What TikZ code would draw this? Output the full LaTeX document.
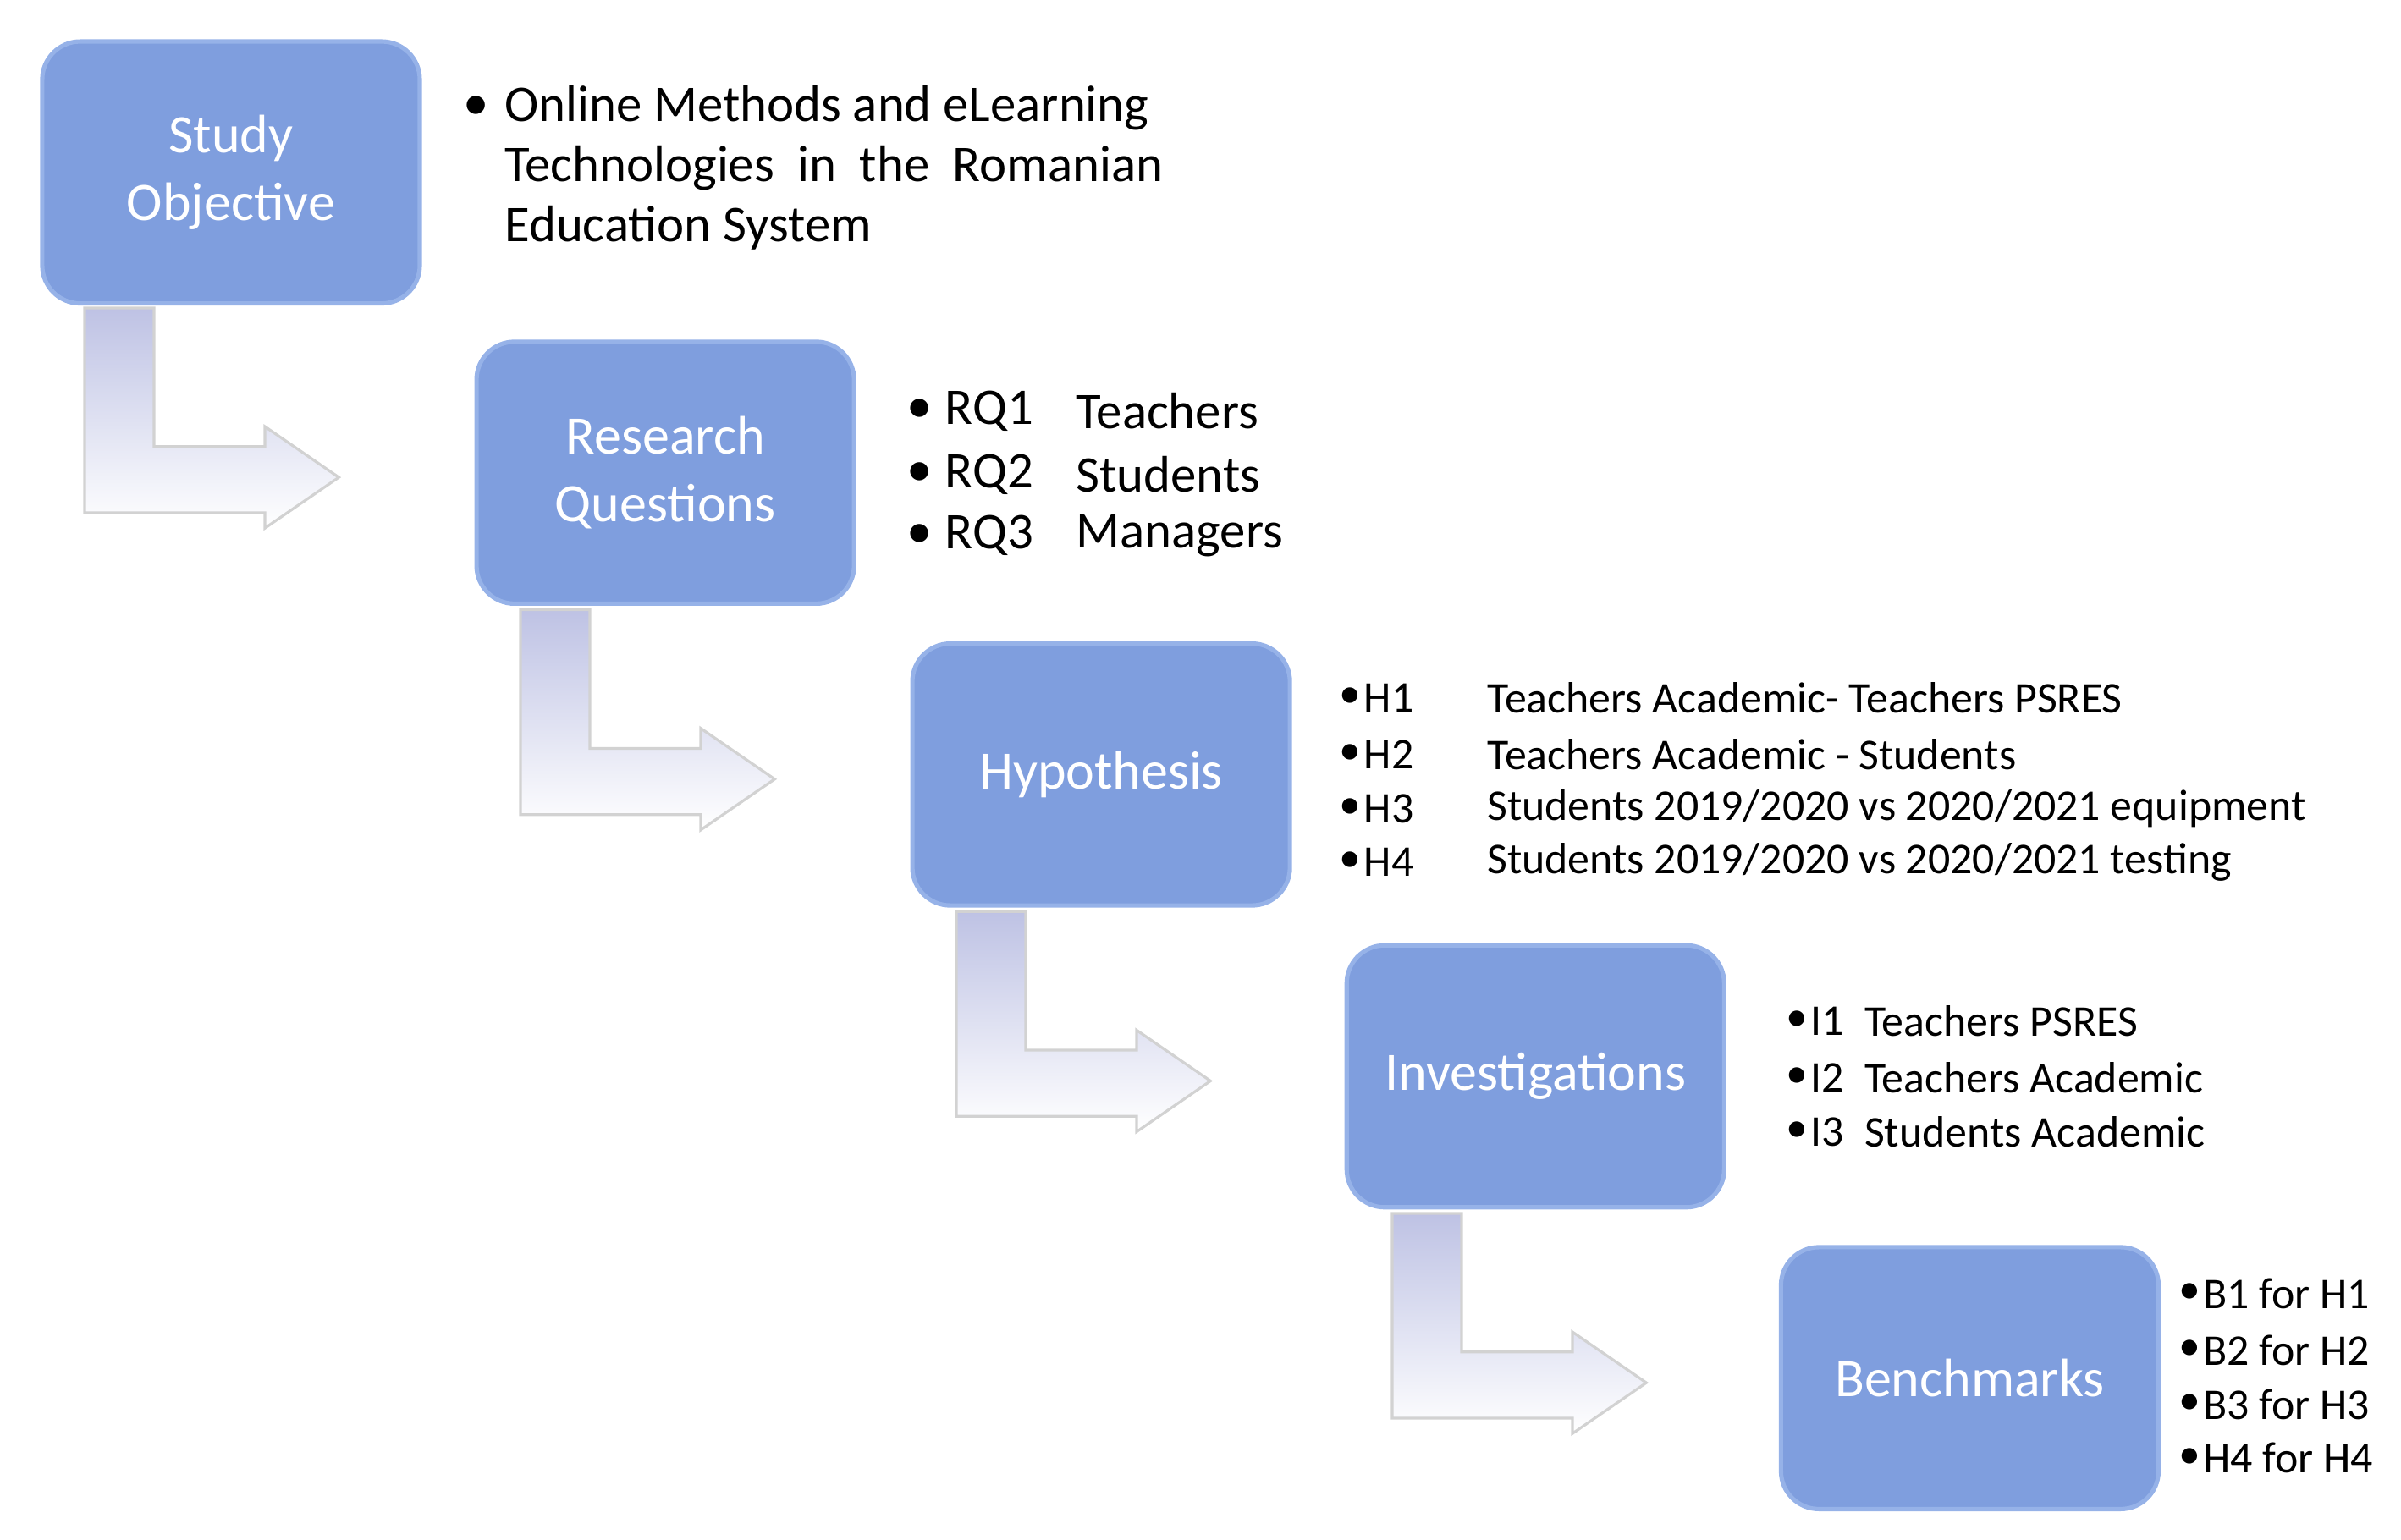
\documentclass[tikz,border=0pt]{standalone}
\usepackage{fontspec}
\setmainfont{Carlito}
\usetikzlibrary{shadows}
\definecolor{boxblue}{RGB}{127,158,222}
\definecolor{boxedge}{RGB}{150,178,232}
\definecolor{arrL}{RGB}{190,194,228}
\begin{document}
\begin{tikzpicture}[x=0.01cm,y=-0.01cm,
  box/.style={draw=boxedge,line width=0.8pt,fill=boxblue,rounded corners=7pt,
    minimum width=2.45cm,minimum height=1.7cm,text=white,align=center,
    font=\fontsize{10}{12.5}\selectfont},
  bigtxt/.style={anchor=west,font=\fontsize{9.5}{12}\selectfont,inner sep=0pt},
  smtxt/.style={anchor=west,font=\fontsize{8.1}{10}\selectfont,inner sep=0pt},
  bentarr/.style={draw=gray!35,line width=0.5pt,left color=arrL,right color=white,shading angle=0}]
\useasboundingbox (0,0) rectangle (1559,1000);
% arrows
\foreach \i in {0,...,3}{
  \begin{scope}[shift={({283*\i},{196*\i})}]
  \path[bentarr] (55,200) -- (100,200) -- (100,290) -- (172,290) -- (172,277) -- (220,310) -- (172,343) -- (172,333) -- (55,333) -- cycle;
  \end{scope}}
\node[box] (b1) at (150,112) {Study\\Objective};
\node[box] (b2) at (432,307) {Research\\Questions};
\node[box] (b3) at (715,503) {Hypothesis};
\node[box] (b4) at (997,699) {Investigations};
\node[box] (b5) at (1279,895) {Benchmarks};
% study objective text
\node[bigtxt] (s0) at (300,70) {•};
\node[bigtxt] (s1) at (327,70) {Online Methods and eLearning};
\node[bigtxt] (s2) at (327,109) {Technologies\ \ in\ \ the\ \ Romanian};
\node[bigtxt] (s3) at (327,148) {Education System};
% RQ
\foreach \y/\a/\b [count=\k] in {267/RQ1/Teachers,308/RQ2/Students,348/RQ3/Managers}{
  \node[bigtxt] (rqb\k) at (588,\y) {•};
  \node[bigtxt] (rqa\k) at (613,\y) {\a};
  \node[bigtxt] (rqt\k) at (698,\y) {\b};}
% H
\node[smtxt] (hb1) at (869,453) {•}; \node[smtxt] (ha1) at (885,453) {H1}; \node[smtxt] (ht1) at (965,453) {Teachers Academic- Teachers PSRES};
\node[smtxt] (hb2) at (869,490) {•}; \node[smtxt] (ha2) at (885,490) {H2}; \node[smtxt] (ht2) at (965,490) {Teachers Academic - Students};
\node[smtxt] (hb3) at (869,525) {•}; \node[smtxt] (ha3) at (885,525) {H3}; \node[smtxt] (ht3) at (965,525) {Students 2019/2020 vs 2020/2021 equipment};
\node[smtxt] (hb4) at (869,560) {•}; \node[smtxt] (ha4) at (885,560) {H4}; \node[smtxt] (ht4) at (965,560) {Students 2019/2020 vs 2020/2021 testing};
% I
\foreach \y/\a/\b [count=\k] in {663/I1/Teachers PSRES,700/I2/Teachers Academic,735/I3/Students Academic}{
  \node[smtxt] (ib\k) at (1159,\y) {•};
  \node[smtxt] (ia\k) at (1175,\y) {\a};
  \node[smtxt] (it\k) at (1210,\y) {\b};}
% B
\foreach \y/\a [count=\k] in {840/B1 for H1,877/B2 for H2,912/B3 for H3,947/H4 for H4}{
  \node[smtxt] (bb\k) at (1414,\y) {•};
  \node[smtxt] (bt\k) at (1430,\y) {\a};}
\end{tikzpicture}
\end{document}
